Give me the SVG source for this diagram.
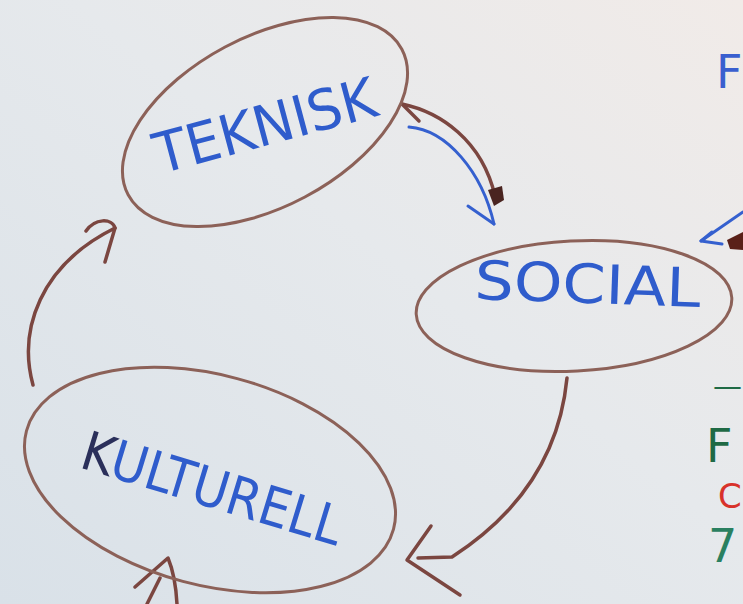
<svg xmlns="http://www.w3.org/2000/svg" width="743" height="604" viewBox="0 0 743 604">
<defs>
<linearGradient id="bg" x1="0" y1="1" x2="1" y2="0">
<stop offset="0" stop-color="#d9e1e8"/>
<stop offset="0.55" stop-color="#e6e9ec"/>
<stop offset="1" stop-color="#f1ebe8"/>
</linearGradient>
<style>
.ell{fill:none;stroke:#8c6158;stroke-width:3}
.br{fill:none;stroke:#7b4640;stroke-width:3.5;stroke-linecap:round;stroke-linejoin:round}
.bl{fill:none;stroke:#3560cf;stroke-width:3;stroke-linecap:round;stroke-linejoin:round}
.lbl{font-family:"DejaVu Sans Condensed","DejaVu Sans",sans-serif;fill:#2f5ccc;font-weight:normal}
.edge{font-family:"DejaVu Sans",sans-serif}
</style>
</defs>
<rect width="743" height="604" fill="url(#bg)"/>

<g id="connectors">
<!-- Teknisk <-> Social (brown) -->
<path class="br" d="M402,104 C440,112 482,140 495,196"/>
<path class="br" d="M402,104 L419,121"/>
<path d="M488,190 L502,186 L504,200 L494,206 Z" fill="#4a2420"/>
<!-- Teknisk -> Social (blue) -->
<path class="bl" d="M409,127 C447,130 482,172 494,224"/>
<path class="bl" d="M494,224 L468,206"/>
<!-- Social -> Kulturell -->
<path class="br" d="M567,378 C562,430 540,500 452,557 L418,558"/>
<path class="br" d="M431,526 L407,560 L460,595"/>
<!-- Kulturell -> Teknisk -->
<path class="br" d="M33,385 C18,330 40,265 115,228"/>
<path class="br" d="M86,231 C95,218 112,218 115,228 L105,262"/>
<!-- from below into Kulturell -->
<path class="br" d="M177,604 C176,585 173,570 168,558 L135,587"/>
<path class="br" d="M147,604 L160,578"/>
<!-- from right into Social -->
<path class="bl" d="M701,241 L743,212"/>
<path class="bl" d="M701,241 L712,232 M701,241 L722,244"/>
<path d="M727,240 L743,232 L743,250 L730,249 Z" fill="#5a2018"/>
</g>

<g id="teknisk">
<ellipse class="ell" cx="265" cy="122" rx="155" ry="85" transform="rotate(-28 265 122)"/>
<text class="lbl" x="160" y="174" font-size="56" textLength="228" lengthAdjust="spacingAndGlyphs" transform="rotate(-15 160 174)">TEKNISK</text>
</g>

<g id="social">
<ellipse class="ell" cx="574" cy="306" rx="158" ry="65" transform="rotate(-3 574 306)"/>
<text class="lbl" x="474" y="299" font-size="54" textLength="226" lengthAdjust="spacingAndGlyphs" transform="rotate(2 474 299)">SOCIAL</text>
</g>

<g id="kulturell">
<ellipse class="ell" cx="210" cy="480" rx="190" ry="105" transform="rotate(15 210 480)"/>
<text class="lbl" x="78" y="467" font-size="54" textLength="270" lengthAdjust="spacingAndGlyphs" transform="rotate(17 78 467)"><tspan fill="#2a2f5a">K</tspan>ULTURELL</text>
</g>

<g id="edge-notes">
<text class="edge" x="716" y="88" font-size="46" fill="#3a5fcf">F</text>
<text class="edge" x="713" y="396" font-size="29" fill="#1f6a45">—</text>
<text class="edge" x="718" y="508" font-size="34" fill="#d8322a">C</text>
<text class="edge" x="706" y="462" font-size="46" fill="#1f6a45">F</text>
<text class="edge" x="708" y="562" font-size="46" fill="#2a8060">7</text>
</g>
</svg>
